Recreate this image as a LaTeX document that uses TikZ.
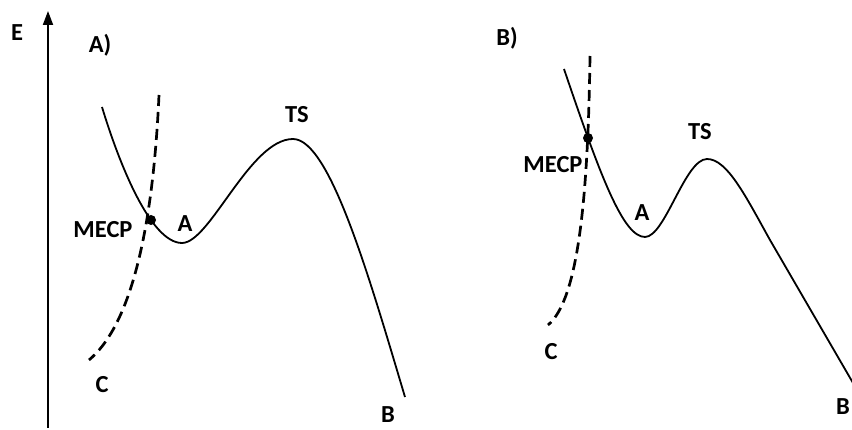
\documentclass[tikz,border=0pt]{standalone}
\usepackage{fontspec}
\setmainfont{Carlito}
\usetikzlibrary{arrows.meta}
\begin{document}
\begin{tikzpicture}[x=1pt,y=-1pt,
  lbl/.style={font=\fontsize{24.5}{28}\selectfont\bfseries, inner sep=0pt, anchor=center},
  pes/.style={line width=1.8pt},
  dpes/.style={line width=2.7pt, dash pattern=on 11pt off 6pt},
  mecp/.style={circle, fill=black, inner sep=0pt, minimum size=10pt}]
\useasboundingbox (0,0) rectangle (852,430);
% axis
\coordinate (ax0) at (48,428);
\coordinate (ax1) at (48,11);
\draw[line width=1.8pt, -{Triangle[width=10pt,length=14pt]}] (ax0) -- (ax1);
\node[lbl] (E) at (17,33) {E};
% ---------- panel A
\node[lbl] (pA) at (100,45) {A)};
\coordinate (a0) at (102,107);
\coordinate (aMin) at (182,243);
\coordinate (aTS) at (293,139);
\coordinate (aEnd) at (405,397);
\draw[pes] (a0) .. controls (118,160) and (150,243) .. (aMin)
  .. controls (210,243) and (250,139) .. (aTS)
  .. controls (330,139) and (370,280) .. (aEnd);
\coordinate (c0) at (159,95);
\coordinate (c1) at (89,360);
\draw[dpes] (c0) .. controls (152,250) and (125,330) .. (c1);
\node[mecp] (mA) at (151,220) {};
\node[lbl] (lmA) at (103,230) {MECP};
\node[lbl] (lAA) at (185,224) {A};
\node[lbl] (lTSA) at (297,115) {TS};
\node[lbl] (lCA) at (102,385) {C};
\node[lbl] (lBA) at (388,415) {B};
% ---------- panel B
\node[lbl] (pB) at (507,38) {B)};
\coordinate (b0) at (564,69);
\coordinate (bMin) at (645,237);
\coordinate (bTS) at (707,159);
\coordinate (bMid) at (770,240);
\coordinate (bEnd) at (860,395);
\draw[pes] (b0) .. controls (600,175) and (623,237) .. (bMin)
  .. controls (665,237) and (685,159) .. (bTS)
  .. controls (727,159) and (745,195) .. (bMid) -- (bEnd);
\coordinate (d0) at (590,56);
\coordinate (d1) at (548,325);
\draw[dpes] (d0) .. controls (588,200) and (578,300) .. (d1);
\node[mecp] (mB) at (588,138) {};
\node[lbl] (lmB) at (553,165) {MECP};
\node[lbl] (lAB) at (642,213) {A};
\node[lbl] (lTSB) at (700,132) {TS};
\node[lbl] (lCB) at (551,352) {C};
\node[lbl] (lBB) at (843,407) {B};
\end{tikzpicture}
\end{document}
